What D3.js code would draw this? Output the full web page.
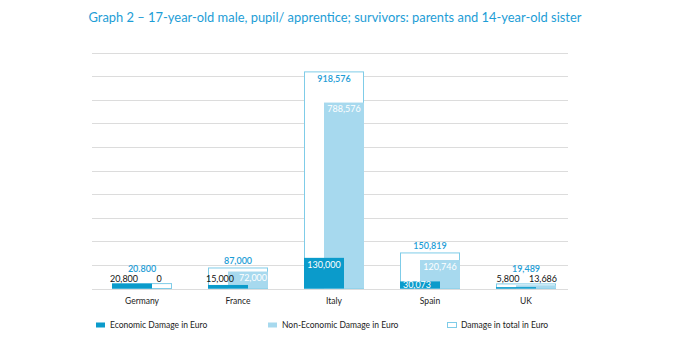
<!DOCTYPE html>
<html><head><meta charset="utf-8">
<script src="https://cdn.jsdelivr.net/npm/d3@7"></script>
<style>body{margin:0;background:#fff}svg{display:block}text{font-family:Lato,"Open Sans",sans-serif}</style>
</head><body><svg id="c" width="674" height="350"></svg>
<script>
const title = "Graph 2 – 17-year-old male, pupil/ apprentice; survivors: parents and 14-year-old sister";
const categories = ["Germany", "France", "Italy", "Spain", "UK"];
const economic = [20800, 15000, 130000, 30073, 5800];
const nonEconomic = [0, 72000, 788576, 120746, 13686];
const total = [20800, 87000, 918576, 150819, 19489];
const totalLabels = ["20.800", "87,000", "918,576", "150,819", "19,489"];
const yTicks = [0,100000,200000,300000,400000,500000,600000,700000,800000,900000,1000000];
const legendLabels = ["Economic Damage in Euro", "Non-Economic Damage in Euro", "Damage in total in Euro"];

const C_ECO = "#0b9bcb", C_NON = "#a7d9ee", C_TOT = "#7fcce8", C_TXT = "#1d9dd6";
const fmt = d3.format(",");
const svg = d3.select("#c");

const y = d3.scaleLinear().domain([0, 1000000]).range([288.5, 52.7]);
const x = d3.scaleBand().domain(categories).range([94, 574]).paddingInner(0.375).paddingOuter(0.1875);
const bw = x.bandwidth();
const sub = bw * 2 / 3;

svg.append("text").attr("x", 335).attr("y", 22).attr("text-anchor", "middle")
  .attr("fill", C_TXT).attr("font-size", 12.9).text(title);

// grid
svg.append("g").selectAll("line").data(yTicks).join("line")
  .attr("x1", 92).attr("x2", 568).attr("y1", d => Math.round(y(d)) + 0.5).attr("y2", d => Math.round(y(d)) + 0.5)
  .attr("stroke", "#dcdcdc").attr("stroke-width", 1);

const data = categories.map((c, i) => ({c, e: economic[i], n: nonEconomic[i], t: total[i], tl: totalLabels[i]}));
const g = svg.append("g");

// total outline
g.selectAll(".tot").data(data).join("rect")
  .attr("x", d => x(d.c) + 0.5).attr("y", d => y(d.t))
  .attr("width", bw - 1).attr("height", d => y(0) - y(d.t))
  .attr("fill", "#fff").attr("stroke", C_TOT).attr("stroke-width", 1);
// non-economic
g.selectAll(".non").data(data).join("rect")
  .attr("x", d => x(d.c) + bw - sub).attr("y", d => y(d.n))
  .attr("width", sub).attr("height", d => y(0) - y(d.n)).attr("fill", C_NON);
// economic
g.selectAll(".eco").data(data).join("rect")
  .attr("x", d => x(d.c)).attr("y", d => y(d.e))
  .attr("width", sub).attr("height", d => y(0) - y(d.e)).attr("fill", C_ECO);

// value labels
function barLabel(v, cx, shift, wshift) {
  const top = y(v);
  const h = y(0) - top;
  if (v > 25000) {
    const cy = Math.min(top + 6.5, 284.5);
    return {x: cx + (h < 20 ? wshift : 0), y: cy + 3.2, fill: "#fff"};
  }
  return {x: cx + shift, y: 282, fill: "#111"};
}
data.forEach(d => {
  const e = barLabel(d.e, x(d.c) + sub / 2, -8, -3);
  g.append("text").attr("x", e.x).attr("y", e.y).attr("text-anchor", "middle")
    .attr("font-size", 9).attr("fill", e.fill).text(fmt(d.e));
  const n = barLabel(d.n, x(d.c) + bw - sub / 2, 7, 5);
  g.append("text").attr("x", n.x).attr("y", n.y).attr("text-anchor", "middle")
    .attr("font-size", 9).attr("fill", n.fill).text(fmt(d.n));
  const top = y(d.t);
  const ty = d.t > 900000 ? top + 10.5 : Math.min(top - 4, 272);
  g.append("text").attr("x", x(d.c) + bw / 2).attr("y", ty).attr("text-anchor", "middle")
    .attr("font-size", 9).attr("font-weight", 600).attr("fill", C_TXT).text(d.tl);
});

// x axis labels
svg.append("g").selectAll("text").data(categories).join("text")
  .attr("x", d => x(d) + bw / 2).attr("y", 304).attr("text-anchor", "middle")
  .attr("font-size", 8.5).attr("fill", "#222").text(d => d);

// legend
const lx = [96, 268, 447];
const lg = svg.append("g");
legendLabels.forEach((t, i) => {
  const r = lg.append("rect").attr("x", lx[i]).attr("y", 322.5).attr("width", 9).attr("height", 5);
  if (i === 0) r.attr("fill", C_ECO);
  else if (i === 1) r.attr("fill", C_NON);
  else r.attr("x", lx[i] + 0.5).attr("fill", "#fff").attr("stroke", C_TOT);
  lg.append("text").attr("x", lx[i] + 14).attr("y", 328).attr("font-size", 8.5).attr("fill", "#222").text(t);
});
</script></body></html>
